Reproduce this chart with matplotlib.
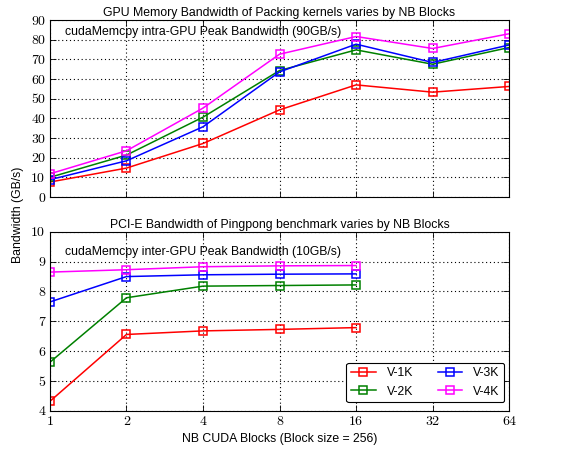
import matplotlib
matplotlib.use("Agg")
import matplotlib.pyplot as plt
from matplotlib.ticker import FixedLocator, FixedFormatter

blocks = [1, 2, 4, 8, 16, 32, 64]
blocks_pci = [1, 2, 4, 8, 16]
series = ["V-1K", "V-2K", "V-3K", "V-4K"]
colors = ["#ff0000", "#008000", "#0000ff", "#ff00ff"]

mem_v1k = [7.6, 14.7, 27.2, 44.3, 57.0, 53.3, 56.2]
mem_v2k = [10.0, 21.3, 40.6, 64.3, 74.8, 67.5, 76.0]
mem_v3k = [8.8, 18.4, 35.7, 63.6, 77.7, 68.4, 77.3]
mem_v4k = [11.8, 23.5, 45.2, 72.6, 81.6, 75.5, 83.0]

pci_v1k = [4.32, 6.56, 6.68, 6.73, 6.79]
pci_v2k = [5.63, 7.79, 8.18, 8.20, 8.22]
pci_v3k = [7.65, 8.50, 8.56, 8.58, 8.59]
pci_v4k = [8.65, 8.73, 8.83, 8.86, 8.87]

xtick_labels = ["1", "2", "4", "8", "16", "32", "64"]

plt.rcParams['font.family'] = ['Liberation Sans', 'DejaVu Sans']
FS = 8.8

fig = plt.figure(figsize=(5.74, 4.51), dpi=100)
ax1 = fig.add_axes([0.087, 0.5632, 0.8, 0.3925])
ax2 = fig.add_axes([0.087, 0.089, 0.8, 0.397])

def style(ax, ylim, yticks):
    ax.set_xscale('log', base=2)
    ax.set_xlim(1, 64)
    ax.set_ylim(*ylim)
    ax.xaxis.set_major_locator(FixedLocator(blocks))
    ax.xaxis.set_minor_locator(FixedLocator([]))
    ax.set_yticks(yticks)
    ax.grid(True, color='black', linestyle=(0, (1, 2.5)), linewidth=0.8)
    ax.tick_params(direction='in', top=True, right=True, length=4, width=0.6)
    for s in ax.spines.values():
        s.set_linewidth(0.8)
    for lab in ax.get_yticklabels():
        lab.set_fontfamily('cmr10')
        lab.set_fontsize(10)

mem = [mem_v1k, mem_v2k, mem_v3k, mem_v4k]
pci = [pci_v1k, pci_v2k, pci_v3k, pci_v4k]

kw = dict(marker='s', markerfacecolor='none', markersize=5.8, markeredgewidth=1.1, linewidth=1.1)
for name, c, v in zip(series, colors, mem):
    ax1.plot(blocks, v, color=c, markeredgecolor=c, label=name, **kw)
for name, c, v in zip(series, colors, pci):
    ax2.plot(blocks_pci, v, color=c, markeredgecolor=c, label=name, **kw)

style(ax1, (0, 90), list(range(0, 91, 10)))
style(ax2, (4, 10), list(range(4, 11)))

ax1.xaxis.set_major_formatter(FixedFormatter([""] * 7))
ax2.xaxis.set_major_formatter(FixedFormatter(xtick_labels))
for lab in ax2.get_xticklabels():
    lab.set_fontfamily('cmr10')
    lab.set_fontsize(10)

ax1.set_title("GPU Memory Bandwidth of Packing kernels varies by NB Blocks", fontsize=FS, pad=3)
ax2.set_title("PCI-E Bandwidth of Pingpong benchmark varies by NB Blocks", fontsize=FS, pad=3)
ax1.text(0.032, 0.965, "cudaMemcpy intra-GPU Peak Bandwidth (90GB/s)", transform=ax1.transAxes,
         fontsize=FS, va='top', ha='left')
ax2.text(0.032, 0.92, "cudaMemcpy inter-GPU Peak Bandwidth (10GB/s)", transform=ax2.transAxes,
         fontsize=FS, va='top', ha='left')

ax2.set_xlabel("NB CUDA Blocks (Block size = 256)", fontsize=FS, labelpad=4)
fig.text(0.031, 0.523, "Bandwidth (GB/s)", rotation=90, va='center', ha='center', fontsize=FS)

leg = ax2.legend(ncol=2, loc='lower right', fontsize=FS, frameon=True, fancybox=True,
                 edgecolor='black', framealpha=1, handlelength=2.0, columnspacing=2.0,
                 borderaxespad=0.4, handletextpad=0.9, bbox_to_anchor=(1.0, 0.02))
leg.get_frame().set_linewidth(0.8)

fig.savefig("out.png", dpi=100)
